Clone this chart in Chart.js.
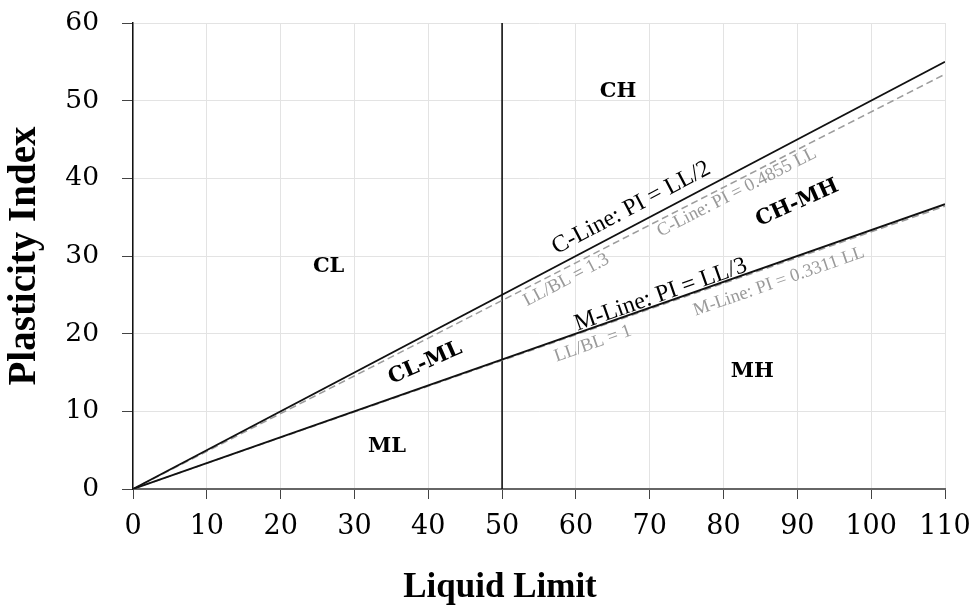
<!DOCTYPE html>
<html>
<head>
<meta charset="utf-8">
<script src="https://cdn.jsdelivr.net/npm/chart.js@4"></script>
<style>
  html, body { margin: 0; padding: 0; background: #fff; }
  #wrap { width: 977px; height: 607px; }
</style>
</head>
<body>
<div id="wrap"><canvas id="chartPlasticidad" width="977" height="607"></canvas></div>
<script>
// ── Datos ───────────────────────────────────────────────────────────────────
var llEnds     = [0, 110];          // liquid limit at both ends of every line
var cLinePI    = [0, 55];           // C-Line: PI = LL/2
var mLinePI    = [0, 36.67];        // M-Line: PI = LL/3
var cFitPI     = [0, 53.41];        // PI = 0.4855 LL
var mFitPI     = [0, 36.42];        // PI = 0.3311 LL
var dividerLL  = [50, 50];          // LL = 50 boundary
var dividerPI  = [0, 60];

var xTicks = [0, 10, 20, 30, 40, 50, 60, 70, 80, 90, 100, 110];
var yTicks = [0, 10, 20, 30, 40, 50, 60];

var zonas = ['CH', 'CL', 'CL-ML', 'ML', 'MH', 'CH-MH'];
var zonaLL = [65.7, 26.5, 39.6, 34.4, 83.9, 90.0];
var zonaPI = [51.2, 28.6, 16.2, 5.5, 15.1, 36.8];

var SERIF  = '"Liberation Serif", "DejaVu Serif", serif';
var SERIF2 = '"DejaVu Serif", serif';

function puntos(xs, ys) {
    return xs.map(function (x, i) { return { x: x, y: ys[i] }; });
}

// etiquetas que siguen la pendiente de una recta (ds = índice del dataset)
var etiquetasRecta = [
    { text: 'C-Line: PI = LL/2',      ll: 67.5, pi: 36.2, ds: 0, color: '#000',    size: 24 },
    { text: 'C-Line: PI = 0.4855 LL', ll: 81.8, pi: 38.2, ds: 2, color: '#9a9a9a', size: 18.5 },
    { text: 'LL/BL = 1.3',            ll: 58.7, pi: 26.9, ds: 0, color: '#9a9a9a', size: 18.5 },
    { text: 'M-Line: PI = LL/3',      ll: 71.5, pi: 25.0, ds: 1, color: '#000',    size: 24 },
    { text: 'M-Line: PI = 0.3311 LL', ll: 87.5, pi: 26.7, ds: 3, color: '#9a9a9a', size: 18.5 },
    { text: 'LL/BL = 1',              ll: 62.3, pi: 18.7, ds: 1, color: '#9a9a9a', size: 18.5 }
];
var giroZona = { 'CL-ML': -24, 'CH-MH': -24 };

// ── Plugin de textos ────────────────────────────────────────────────────────
var textosPlugin = {
    id: 'textos',
    afterDatasetsDraw: function (chart) {
        var ctx = chart.ctx, xs = chart.scales.x, ys = chart.scales.y;
        ctx.save();
        ctx.textAlign = 'center';
        ctx.textBaseline = 'middle';

        // zonas
        ctx.fillStyle = '#000';
        ctx.font = 'bold 21px ' + SERIF2;
        zonas.forEach(function (z, i) {
            ctx.save();
            ctx.translate(xs.getPixelForValue(zonaLL[i]), ys.getPixelForValue(zonaPI[i]));
            if (giroZona[z]) ctx.rotate(giroZona[z] * Math.PI / 180);
            ctx.fillText(z, 0, 0);
            ctx.restore();
        });

        // rótulos de las rectas
        etiquetasRecta.forEach(function (e) {
            var d = chart.data.datasets[e.ds].data;
            var ang = Math.atan2(ys.getPixelForValue(d[1].y) - ys.getPixelForValue(d[0].y),
                                 xs.getPixelForValue(d[1].x) - xs.getPixelForValue(d[0].x));
            ctx.save();
            ctx.translate(xs.getPixelForValue(e.ll), ys.getPixelForValue(e.pi));
            ctx.rotate(ang);
            ctx.fillStyle = e.color;
            ctx.font = e.size + 'px ' + SERIF;
            ctx.fillText(e.text, 0, 0);
            ctx.restore();
        });

        // título eje X
        ctx.fillStyle = '#000';
        ctx.font = 'bold 35px ' + SERIF;
        ctx.fillText('Liquid Limit', 500, 588);
        ctx.restore();
    }
};

// ── Gráfica ─────────────────────────────────────────────────────────────────
var linea = function (label, xs, ys, color, width, dash) {
    return {
        label: label,
        data: puntos(xs, ys),
        showLine: true,
        borderColor: color,
        borderWidth: width,
        borderDash: dash || [],
        pointRadius: 0,
        fill: false
    };
};

new Chart(document.getElementById('chartPlasticidad'), {
    type: 'scatter',
    data: {
        datasets: [
            linea('C-Line', llEnds, cLinePI, '#111', 1.8),
            linea('M-Line', llEnds, mLinePI, '#111', 1.8),
            linea('C-Line fit', llEnds, cFitPI, '#9c9c9c', 1.5, [7, 4]),
            linea('M-Line fit', llEnds, mFitPI, '#9c9c9c', 1.5, [7, 4]),
            linea('LL 50', dividerLL, dividerPI, '#111', 1.6)
        ]
    },
    options: {
        responsive: false,
        animation: false,
        layout: { padding: { top: 23, right: 32, left: 0, bottom: 0 } },
        plugins: { legend: { display: false }, tooltip: { enabled: false } },
        scales: {
            x: {
                type: 'linear', min: 0, max: 110,
                afterBuildTicks: function (s) { s.ticks = xTicks.map(function (v) { return { value: v }; }); },
                afterFit: function (s) { s.height = 118; s.paddingLeft = 0; s.paddingRight = 0; },
                grid: { color: '#e3e3e3', lineWidth: 1, tickColor: '#444', tickLength: 10 },
                border: { color: '#666', width: 2 },
                ticks: { color: '#000', padding: 12, font: { family: SERIF2, size: 27 }, maxRotation: 0 }
            },
            y: {
                type: 'linear', min: 0, max: 60,
                afterBuildTicks: function (s) { s.ticks = yTicks.map(function (v) { return { value: v }; }); },
                afterFit: function (s) { s.width = 133; s.paddingTop = 0; s.paddingBottom = 0; },
                grid: { color: '#e3e3e3', lineWidth: 1, tickColor: '#444', tickLength: 11 },
                border: { color: '#111', width: 1.5 },
                ticks: { color: '#000', padding: 23, font: { family: SERIF2, size: 26.5 } },
                title: {
                    display: true, text: 'Plasticity Index', color: '#000',
                    font: { family: SERIF, size: 39, weight: 'bold' }, padding: { top: 2, bottom: 0 }
                }
            }
        }
    },
    plugins: [textosPlugin]
});
</script>
</body>
</html>
